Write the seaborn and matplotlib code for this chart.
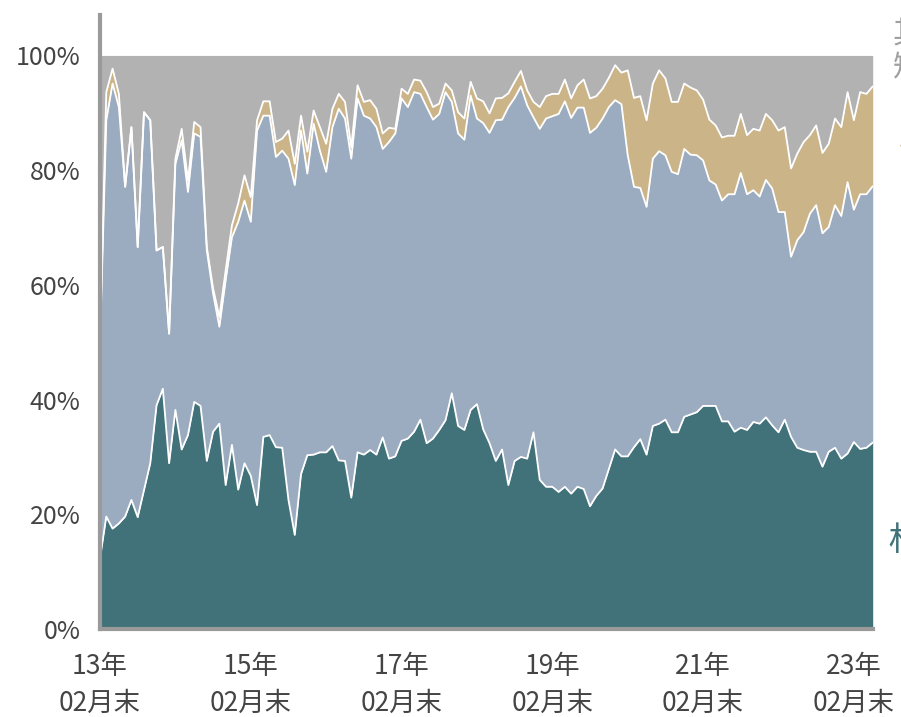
import numpy as np
import pandas as pd
import matplotlib
matplotlib.use('Agg')
import matplotlib.pyplot as plt
import seaborn as sns

# monthly share of each asset class (%), 2013-02 .. 2023-05
# bottom layer (teal)
equity = [12.3, 19.6, 17.5, 18.4, 19.6, 22.5, 19.5, 24.2, 28.9, 39.0,
          41.9, 28.9, 38.2, 31.3, 33.8, 39.6, 38.9, 29.3, 34.4, 35.8,
          25.1, 32.1, 24.3, 28.9, 26.7, 21.6, 33.5, 33.8, 31.7, 31.6,
          22.5, 16.4, 27.0, 30.3, 30.4, 30.8, 30.8, 31.9, 29.4, 29.3,
          22.9, 30.8, 30.4, 31.2, 30.4, 33.4, 29.7, 30.1, 32.8, 33.2,
          34.4, 36.5, 32.4, 33.2, 34.7, 36.4, 41.1, 35.4, 34.7, 38.2,
          39.2, 34.8, 32.4, 29.3, 31.3, 25.1, 29.3, 30.0, 29.7, 34.3,
          26.0, 24.8, 24.8, 23.9, 24.8, 23.6, 24.8, 24.4, 21.4, 23.2,
          24.5, 27.9, 31.3, 30.1, 30.1, 31.7, 33.1, 30.4, 35.4, 35.8,
          36.5, 34.3, 34.3, 37.0, 37.4, 37.8, 38.9, 38.9, 38.9, 36.2,
          36.2, 34.4, 35.1, 34.7, 36.1, 35.8, 36.9, 35.5, 34.3, 36.5,
          33.5, 31.6, 31.2, 30.9, 30.9, 28.3, 30.9, 31.6, 29.7, 30.6,
          32.6, 31.4, 31.6, 32.5]
# top edge of the second layer (blue), cumulative
level_2 = [50.0, 88.7, 95.1, 91.0, 77.1, 87.5, 66.6, 90.1, 88.7, 66.0,
           66.6, 51.5, 81.1, 85.2, 76.2, 86.4, 85.8, 66.0, 58.5, 52.7,
           60.8, 68.3, 71.0, 74.7, 71.0, 86.9, 89.5, 89.5, 82.3, 83.4,
           82.0, 77.4, 86.9, 79.4, 88.1, 83.4, 79.7, 87.5, 90.7, 89.0,
           82.0, 92.5, 89.5, 89.0, 87.5, 83.7, 84.9, 86.4, 92.5, 91.0,
           93.6, 93.3, 91.0, 88.8, 89.8, 93.6, 91.9, 86.4, 85.3, 93.0,
           89.0, 88.2, 86.5, 88.7, 88.8, 91.0, 92.6, 94.6, 91.3, 89.2,
           87.2, 89.0, 89.4, 89.8, 92.0, 89.1, 90.9, 90.9, 86.5, 87.4,
           89.0, 91.0, 92.2, 91.5, 82.6, 77.1, 76.9, 73.6, 82.0, 83.3,
           82.6, 79.7, 79.3, 83.7, 82.7, 82.6, 81.7, 78.2, 77.5, 74.7,
           75.8, 75.8, 79.5, 75.8, 76.5, 75.4, 78.3, 76.8, 72.7, 72.7,
           64.9, 67.8, 69.2, 72.4, 73.9, 69.0, 70.1, 73.9, 72.0, 77.9,
           73.1, 75.8, 75.8, 77.2]
# top edge of the third layer (tan), cumulative
level_3 = [50.0, 93.6, 97.7, 93.3, 77.1, 87.5, 66.6, 90.1, 88.7, 66.0,
           66.6, 51.5, 82.0, 87.2, 78.2, 88.4, 87.5, 66.6, 59.4, 54.4,
           62.5, 70.4, 74.2, 79.1, 75.3, 88.7, 92.0, 92.0, 84.9, 85.5,
           86.9, 81.1, 89.5, 83.2, 90.4, 87.5, 84.6, 90.7, 93.3, 91.9,
           84.0, 94.8, 91.9, 92.2, 90.7, 86.4, 87.4, 87.2, 94.2, 93.3,
           95.8, 95.6, 93.6, 91.0, 91.6, 95.1, 93.9, 90.1, 89.0, 95.4,
           92.5, 92.0, 89.9, 92.5, 92.6, 93.4, 95.4, 97.3, 93.9, 91.9,
           91.0, 92.9, 93.3, 93.3, 95.8, 92.5, 94.8, 95.8, 92.5, 92.9,
           94.2, 96.1, 98.3, 97.0, 97.4, 92.6, 92.9, 88.7, 95.1, 97.4,
           96.0, 91.9, 91.9, 95.1, 94.4, 93.9, 92.3, 88.8, 87.8, 85.7,
           86.0, 86.0, 89.8, 86.1, 87.2, 86.9, 89.8, 88.7, 86.9, 87.5,
           80.3, 82.9, 84.9, 86.1, 87.8, 83.0, 84.6, 89.0, 87.5, 93.6,
           88.7, 93.6, 93.3, 94.6]

x_labels = ['13年\n02月末', '15年\n02月末', '17年\n02月末',
            '19年\n02月末', '21年\n02月末', '23年\n02月末']
y_ticks = [0, 20, 40, 60, 80, 100]

colors = ['#417279', '#9cacc0', '#ccb489', '#b2b2b2']

sns.set_style('white')
plt.rcParams['font.family'] = ['Noto Sans CJK SC', 'DejaVu Sans']

df = pd.DataFrame({'equity': equity, 'level_2': level_2, 'level_3': level_3})
df['idx'] = np.arange(len(df))
layers = [df['equity'],
          df['level_2'] - df['equity'],
          df['level_3'] - df['level_2'],
          100 - df['level_3']]

fig = plt.figure(figsize=(9.01, 7.17), dpi=100)
ax = fig.add_axes([0.111, 0.1227, 0.8576, 0.856])

ax.stackplot(df['idx'], *layers, colors=colors, linewidth=0)
for col in ['equity', 'level_2', 'level_3']:
    sns.lineplot(data=df, x='idx', y=col, color='white', linewidth=1.3, ax=ax)

ax.set_xlim(0, len(df) - 1)
ax.set_ylim(0, 107)
ax.set_xlabel('')
ax.set_ylabel('')

sns.despine(ax=ax)
for side in ['left', 'bottom']:
    ax.spines[side].set_color('#9a9a9a')
    ax.spines[side].set_linewidth(3)

ax.set_yticks(y_ticks)
ax.set_yticklabels([f'{v}%' for v in y_ticks])
ax.tick_params(axis='y', direction='in', length=8, width=3, color='#9a9a9a',
               labelcolor='#444444', labelsize=18, pad=14)

ax.set_xticks(list(range(0, len(df), 24)))
ax.set_xticklabels(x_labels, linespacing=1.5)
ax.set_xticks(list(range(15, len(df), 15)), minor=True)
ax.tick_params(axis='x', which='major', length=0, labelcolor='#444444',
               labelsize=19, pad=17)
ax.tick_params(axis='x', which='minor', direction='in', length=6, width=3,
               color='#9a9a9a')

# side labels, cut by the right edge of the picture as in the source
fig.text(893 / 901, 1 - 52 / 717, '其他\n短融', color='#a0a0a0', fontsize=22,
         ha='left', va='center', linespacing=1.1)
fig.text(899 / 901, 1 - 150 / 717, '债券', color='#ccb489', fontsize=22,
         ha='left', va='center')
fig.text(899 / 901, 1 - 330 / 717, '固收', color='#9cacc0', fontsize=22,
         ha='left', va='center')
fig.text(888 / 901, 1 - 540 / 717, '权益', color='#417279', fontsize=24,
         ha='left', va='center')

fig.savefig('out.png', dpi=100)
